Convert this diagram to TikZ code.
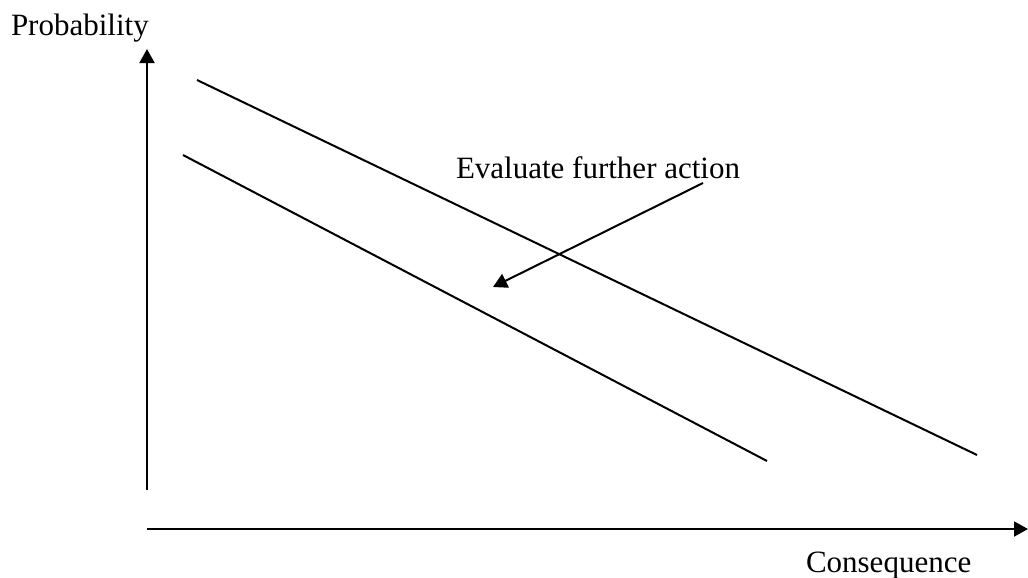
\documentclass[tikz,border=0pt]{standalone}
\usepackage{fontspec}
\setmainfont{Liberation Serif}
\usetikzlibrary{arrows.meta}

\begin{document}
\begin{tikzpicture}[x=0.5pt, y=-0.5pt, line width=1pt,
    axis/.style={-{Triangle[length=7pt, width=7.5pt]}},
    lbl/.style={inner sep=0pt, anchor=base west, font=\fontsize{15.5}{18}\selectfont}]
    \useasboundingbox (0,0) rectangle (1028,578);
    % axes
    \coordinate (origin-y) at (147,490);
    \coordinate (top-y) at (147,49);
    \coordinate (origin-x) at (147,529);
    \coordinate (end-x) at (1028,529);
    \draw[axis] (origin-y) -- (top-y);
    \draw[axis] (origin-x) -- (end-x);
    \node[lbl] (prob) at (10,35) {Probability};
    \node[lbl] (cons) at (805,572) {Consequence};
    % boundary lines
    \coordinate (upper-a) at (197,80);
    \coordinate (upper-b) at (977,455);
    \coordinate (lower-a) at (183,155);
    \coordinate (lower-b) at (767,461);
    \draw (upper-a) -- (upper-b);
    \draw (lower-a) -- (lower-b);
    % label and pointer
    \node[lbl] (eval) at (455,178) {Evaluate further action};
    \coordinate (ptr-start) at (703,183);
    \coordinate (ptr-end) at (493,287);
    \draw[axis] (ptr-start) -- (ptr-end);
\end{tikzpicture}
\end{document}
